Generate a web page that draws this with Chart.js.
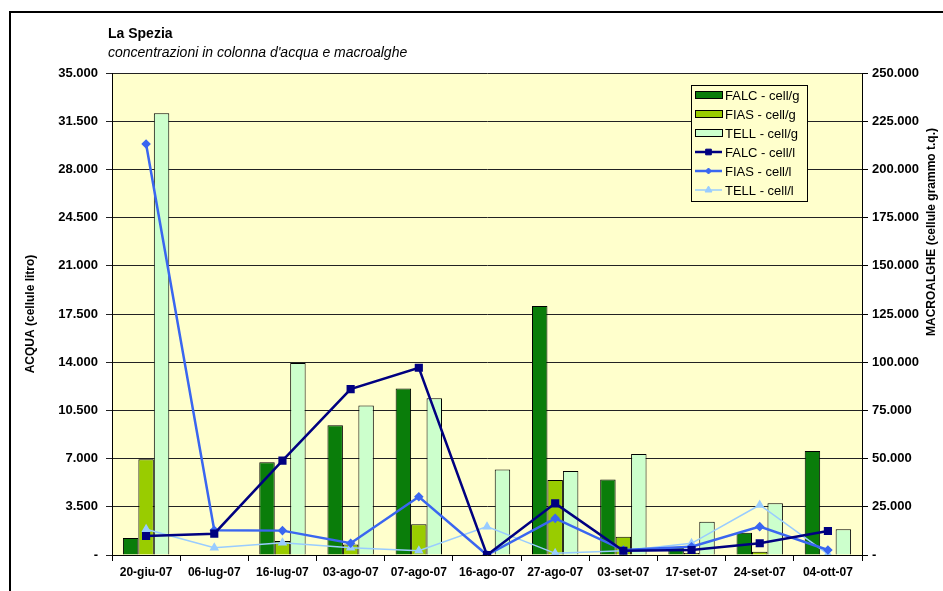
<!DOCTYPE html>
<html><head><meta charset="utf-8">
<script src="https://cdn.jsdelivr.net/npm/chart.js@4/dist/chart.umd.min.js"></script>
<style>html,body{margin:0;padding:0;background:#fff}#wrap{position:relative;width:943px;height:591px}</style>
</head><body><div id="wrap"><canvas id="c"></canvas></div>
<script>
const categories = ['20-giu-07','06-lug-07','16-lug-07','03-ago-07','07-ago-07','16-ago-07','27-ago-07','03-set-07','17-set-07','24-set-07','04-ott-07'];
// macroalghe (cell/g) - right axis
const falcG = [8800, 0, 48100, 67300, 86400, 0, 129100, 39100, 3800, 11600, 53900];
const fiasG = [49600, 0, 7200, 5500, 16000, 0, 38900, 9500, 1000, 1700, 0];
const tellG = [229100, 0, 99600, 77600, 81300, 44300, 43600, 52400, 17300, 26800, 13300];
// acqua (cell/l) - left axis
const falcL = [1380, 1550, 6850, 12050, 13600, 0, 3750, 310, 360, 850, 1740];
const fiasL = [29850, 1800, 1770, 850, 4230, 0, 2660, 360, 600, 2060, 360];
const tellL = [1870, 530, 890, 530, 310, 2060, 120, 310, 850, 3630, 70];
const leftMax = 35000, leftStep = 3500;
const rightMax = 250000, rightStep = 25000;

const FONT = '"Liberation Sans", Arial, sans-serif';
function fmt(v){ if (v === 0) return '-'; return String(Math.round(v)).replace(/\B(?=(\d{3})+(?!\d))/g, '.'); }

const COL = {
  falcG:'#0A7D0A', fiasG:'#99CC00', tellG:'#CCFFCC',
  falcL:'#000080', fiasL:'#3A66F0', tellL:'#99CCFF'
};

const decor = {
  id:'decor',
  beforeDraw(chart){
    const {ctx, chartArea:a} = chart;
    ctx.save();
    ctx.fillStyle = '#fff'; ctx.fillRect(0,0,chart.width,chart.height);
    ctx.fillStyle = '#FFFFCC'; ctx.fillRect(a.left, a.top, a.right-a.left, a.bottom-a.top);
    ctx.strokeStyle = '#000'; ctx.lineWidth = 2;
    ctx.beginPath(); ctx.moveTo(10, chart.height+5); ctx.lineTo(10, 12); ctx.lineTo(chart.width+5, 12); ctx.stroke();
    ctx.fillStyle = '#000'; ctx.textAlign = 'left'; ctx.textBaseline = 'alphabetic';
    ctx.font = 'bold 14px ' + FONT; ctx.fillText('La Spezia', 108, 38);
    ctx.font = 'italic 14px ' + FONT; ctx.fillText("concentrazioni in colonna d'acqua e macroalghe", 108, 57);
    ctx.restore();
  },
  afterDraw(chart){
    const {ctx} = chart;
    ctx.save();
    ctx.translate(932, 232); ctx.rotate(-Math.PI/2);
    ctx.font = 'bold 12px ' + FONT; ctx.fillStyle = '#000'; ctx.textAlign = 'center'; ctx.textBaseline = 'middle';
    ctx.fillText('MACROALGHE (cellule grammo t.q.)', 0, 0);
    ctx.restore();
    ctx.save();
    const bx = 691, by = 85, bw = 116, bh = 116;
    ctx.fillStyle = '#FFFFCC'; ctx.fillRect(bx, by, bw, bh);
    ctx.strokeStyle = '#000'; ctx.lineWidth = 1; ctx.strokeRect(bx+0.5, by+0.5, bw, bh);
    ctx.font = '13px ' + FONT; ctx.textBaseline = 'middle'; ctx.textAlign = 'left';
    chart.data.datasets.forEach((ds, i) => {
      const cy = 95 + i*19;
      if (ds.type === 'line') {
        ctx.strokeStyle = ds.borderColor; ctx.lineWidth = ds.borderWidth;
        ctx.beginPath(); ctx.moveTo(695, cy); ctx.lineTo(722, cy); ctx.stroke();
        ctx.fillStyle = ds.pointBackgroundColor; ctx.strokeStyle = ds.pointBorderColor; ctx.lineWidth = 1;
        Chart.helpers.drawPoint(ctx, {pointStyle: ds.pointStyle, radius: ds.pointRadius, borderWidth: 1, rotation: 0}, 708.5, cy);
      } else {
        ctx.fillStyle = ds.backgroundColor; ctx.fillRect(695.5, cy-3.5, 27, 7);
        ctx.strokeStyle = '#000'; ctx.lineWidth = 1; ctx.strokeRect(695.5, cy-3.5, 27, 7);
      }
      ctx.fillStyle = '#000';
      ctx.fillText(ds.label, 725, cy+1);
    });
    ctx.restore();
  }
};

const barDs = (label, data, color) => ({
  type:'bar', label, data, backgroundColor: color, borderColor:'#000', borderWidth:1,
  yAxisID:'yR', order:2, barPercentage:1, categoryPercentage:0.68
});
const lineDs = (label, data, color, style, r, w) => ({
  type:'line', label, data, borderColor: color, backgroundColor: color, pointBackgroundColor: color, pointBorderColor: color,
  pointStyle: style, pointRadius: r, borderWidth: w, yAxisID:'yL', order:1, tension:0
});

new Chart(document.getElementById('c'), {
  type:'bar',
  data:{
    labels: categories,
    datasets:[
      barDs('FALC - cell/g', falcG, COL.falcG),
      barDs('FIAS - cell/g', fiasG, COL.fiasG),
      barDs('TELL - cell/g', tellG, COL.tellG),
      lineDs('FALC - cell/l', falcL, COL.falcL, 'rect', 4, 2.5),
      lineDs('FIAS - cell/l', fiasL, COL.fiasL, 'rectRot', 3, 2.5),
      lineDs('TELL - cell/l', tellL, COL.tellL, 'triangle', 4, 1.5)
    ]
  },
  options:{
    responsive:true, maintainAspectRatio:false, animation:false,
    layout:{padding:{top:73, right:0, bottom:0, left:0}},
    plugins:{legend:{display:false}, tooltip:{enabled:false}, title:{display:false}},
    scales:{
      x:{
        offset:true,
        grid:{display:true, drawOnChartArea:false, drawTicks:true, tickLength:6, color:'#000', offset:true},
        border:{display:true, color:'#000', width:1},
        ticks:{font:{family:FONT, size:12, weight:'bold'}, color:'#000', padding:4, maxRotation:0, autoSkip:false},
        afterFit(s){ s.height = 36; }
      },
      yL:{
        position:'left', min:0, max:leftMax,
        ticks:{stepSize:leftStep, callback:fmt, font:{family:FONT, size:13, weight:'bold'}, color:'#000', padding:8},
        grid:{color:'#222', lineWidth:1, tickLength:6, drawTicks:true},
        border:{display:true, color:'#000', width:1},
        title:{display:true, text:'ACQUA (cellule litro)', font:{family:FONT, size:12, weight:'bold'}, color:'#000', padding:{top:23, bottom:0}},
        afterFit(s){ s.width = 112; }
      },
      yR:{
        position:'right', min:0, max:rightMax,
        ticks:{stepSize:rightStep, callback:fmt, font:{family:FONT, size:13, weight:'bold'}, color:'#000', padding:4},
        grid:{drawOnChartArea:false, color:'#000', tickLength:6, drawTicks:true},
        border:{display:true, color:'#000', width:1},
        afterFit(s){ s.width = 81; }
      }
    }
  },
  plugins:[decor]
});
</script></body></html>
